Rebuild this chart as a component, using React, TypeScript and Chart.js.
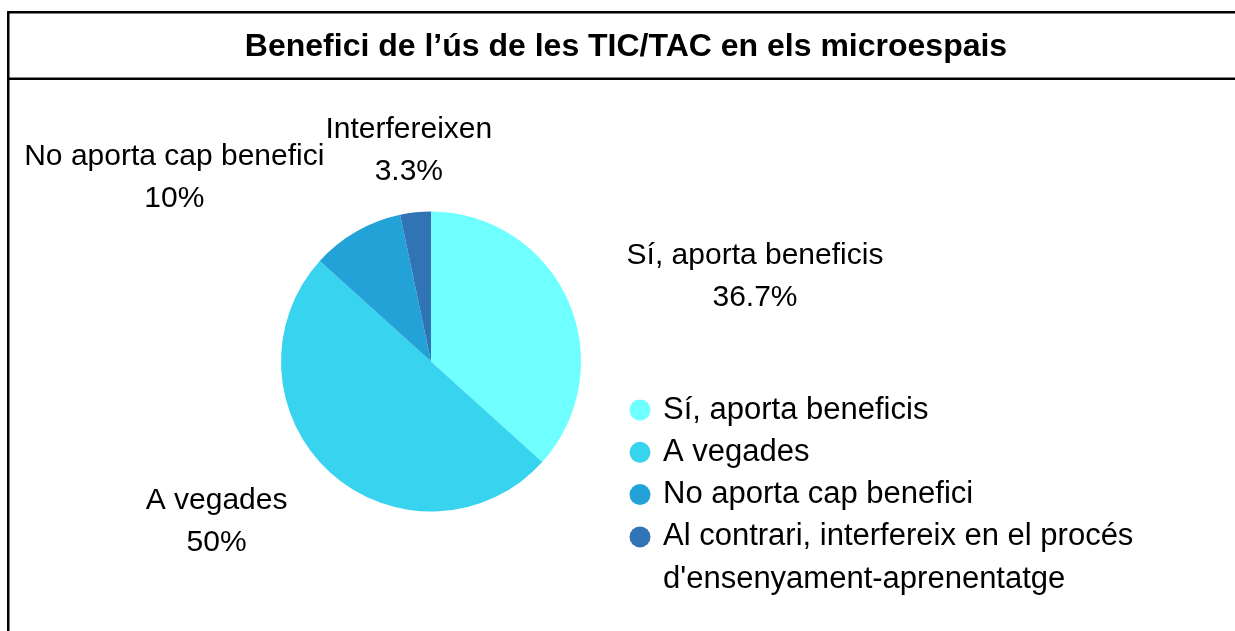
import React, { useEffect, useRef } from "react";
import { Chart, registerables } from "chart.js";

Chart.register(...registerables);

const chartTitle = "Benefici de l\u2019ús de les TIC/TAC en els microespais";
const legendLabels = [
  "Sí, aporta beneficis",
  "A vegades",
  "No aporta cap benefici",
  "Al contrari, interfereix en el procés d'ensenyament-aprenentatge",
];
const sliceLabels = ["Sí, aporta beneficis", "A vegades", "No aporta cap benefici", "Interfereixen"];
const percentValues = [36.7, 50, 10, 3.3];
const sliceColors = ["#70FFFF", "#38D3EF", "#23A2D8", "#3074B6"];

const FONT = '"Liberation Sans", Arial, sans-serif';

const framePlugin = {
  id: "frame",
  beforeDraw(chart: any) {
    const ctx = chart.ctx;
    ctx.save();
    ctx.fillStyle = "#ffffff";
    ctx.fillRect(0, 0, chart.width, chart.height);
    ctx.fillStyle = "#000000";
    ctx.fillRect(7, 11, 2.5, chart.height - 11);
    ctx.fillRect(7, 11, chart.width - 7, 2.5);
    ctx.fillRect(7, 77.5, chart.width - 7, 2.5);
    ctx.font = `bold 32px ${FONT}`;
    ctx.textAlign = "center";
    ctx.textBaseline = "middle";
    ctx.fillText(chartTitle, 626, 47);
    ctx.restore();
  },
};

const labelPlugin = {
  id: "sliceLabels",
  afterDraw(chart: any) {
    const ctx = chart.ctx;
    const meta = chart.getDatasetMeta(0);
    const data = chart.data.datasets[0].data as number[];
    const total = data.reduce((a, b) => a + b, 0);
    ctx.save();
    ctx.font = `30px ${FONT}`;
    ctx.fillStyle = "#000000";
    ctx.textBaseline = "middle";
    ctx.textAlign = "center";
    meta.data.forEach((arc: any, i: number) => {
      const p = arc.getProps(["x", "y", "startAngle", "endAngle", "outerRadius"], true);
      const mid = (p.startAngle + p.endAngle) / 2;
      const dx = Math.cos(mid);
      const dy = Math.sin(mid);
      const R = p.outerRadius + 64;
      const ax = p.x + dx * R;
      const ay = p.y + dy * R + 2;
      const pct = Math.round((data[i] / total) * 1000) / 10;
      const lines = [sliceLabels[i], `${pct}%`];
      const w = Math.max(...lines.map((l) => ctx.measureText(l).width));
      let left = ax - w / 2;
      if (dx > 0.3) left = ax;
      else if (dx < -0.3) left = ax - w;
      const cx = left + w / 2;
      ctx.fillText(lines[0], cx, ay - 21);
      ctx.fillText(lines[1], cx, ay + 21);
    });
    ctx.restore();
  },
};

const legendPlugin = {
  id: "customLegend",
  afterDraw(chart: any) {
    const ctx = chart.ctx;
    ctx.save();
    ctx.font = `31px ${FONT}`;
    ctx.textBaseline = "middle";
    ctx.textAlign = "left";
    const textX = 663;
    const maxW = 520;
    let y = 410;
    const step = 42.3;
    const labels = chart.data.labels as string[];
    labels.forEach((label: string, i: number) => {
      ctx.fillStyle = sliceColors[i];
      ctx.beginPath();
      ctx.arc(640, y, 10.5, 0, Math.PI * 2);
      ctx.fill();
      ctx.fillStyle = "#000000";
      const words = label.split(" ");
      const lines: string[] = [];
      let cur = "";
      words.forEach((wd) => {
        const test = cur ? cur + " " + wd : wd;
        if (ctx.measureText(test).width > maxW && cur) {
          lines.push(cur);
          cur = wd;
        } else cur = test;
      });
      if (cur) lines.push(cur);
      lines.forEach((l) => {
        ctx.fillText(l, textX, y);
        y += step;
      });
    });
    ctx.restore();
  },
};

export default function App() {
  const ref = useRef<HTMLCanvasElement>(null);
  useEffect(() => {
    if (!ref.current) return;
    const chart = new Chart(ref.current, {
      type: "pie",
      data: {
        labels: legendLabels,
        datasets: [
          {
            data: percentValues,
            backgroundColor: sliceColors,
            borderWidth: 0,
          },
        ],
      },
      options: {
        animation: false,
        responsive: false,
        layout: { padding: { left: 281, right: 654, top: 211.5, bottom: 119.5 } },
        plugins: {
          legend: { display: false },
          title: { display: false },
          tooltip: { enabled: false },
        },
      },
      plugins: [framePlugin, labelPlugin, legendPlugin],
    });
    return () => chart.destroy();
  }, []);
  return (
    <div style={{ position: "fixed", left: 0, top: 0, width: 1235, height: 631, overflow: "hidden", background: "#fff" }}>
      <canvas ref={ref} width={1235} height={631} style={{ display: "block" }} />
    </div>
  );
}
